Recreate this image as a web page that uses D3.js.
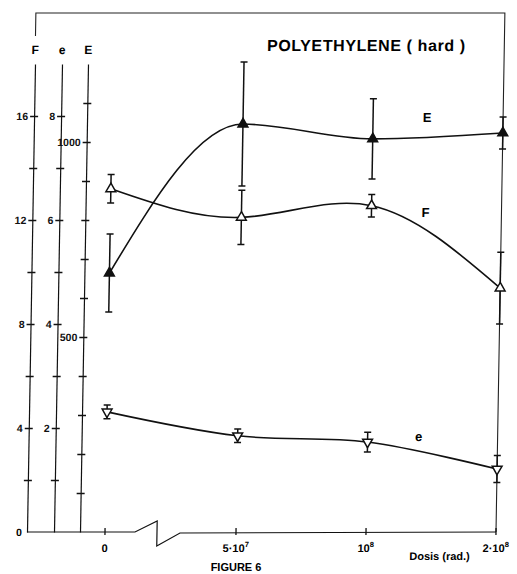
<!DOCTYPE html>
<html>
<head>
<meta charset="utf-8">
<script src="https://cdn.jsdelivr.net/npm/d3@7"></script>
<style>
  body { margin: 0; background: #fff; }
  svg { display: block; font-family: "Liberation Sans", Arial, sans-serif; font-weight: bold; }
</style>
</head>
<body>
<div id="chart"></div>
<script>
// --- data ---
const doses = [0, 5e7, 1e8, 2e8];
const eModulus = [664, 1046, 1008, 1023];      // E
const eModulusErr = [100, 159, 103, 41];
const fValues = [13.2, 12.1, 12.55, 9.38];      // F
const fErr = [0.55, 1.04, 0.43, 1.38];
const eValues = [2.31, 1.85, 1.73, 1.21];       // e
const eErr = [0.13, 0.13, 0.19, 0.26];

const fTicks = [2, 4, 6, 8, 10, 12, 14, 16];
const fLabels = [4, 8, 12, 16];
const eTicks = [1, 2, 3, 4, 5, 6, 7, 8];
const eLabels = [2, 4, 6, 8];
const bigETicks = [100, 200, 300, 400, 500, 600, 700, 800, 900, 1000, 1100];
const bigELabels = [500, 1000];

const width = 517, height = 574;
const base = 532;

const svg = d3.select("#chart").append("svg")
  .attr("width", width).attr("height", height);

// scan is slightly sheared: verticals lean right toward the top
const g = svg.append("g")
  .attr("transform", `translate(0,${base}) skewX(-0.98) translate(0,${-base})`);

// --- scales ---
const xLog = d3.scaleLog().domain([5e7, 2e8]).range([236, 496]);
const xZero = 105;
const x = d => d === 0 ? xZero : xLog(d);

const yF = d3.scaleLinear().domain([0, 18]).range([base, base - 18 * 26]);
const ye = d3.scaleLinear().domain([0, 9]).range([base, base - 9 * 52]);
const yE = d3.scaleLinear().domain([0, 1200]).range([base, base - 1200 * 0.39]);

// --- left axes ---
function leftAxis(scale, xPos, ticks, labels, name) {
  const ax = g.append("g")
    .attr("transform", `translate(${xPos},0)`)
    .call(d3.axisLeft(scale)
      .tickValues(ticks)
      .tickSizeOuter(0)
      .tickSizeInner(4)
      .tickPadding(2)
      .tickFormat(v => labels.includes(v) ? v : ""));
  ax.select(".domain").attr("stroke", "#111").attr("stroke-width", 1.2);
  ax.selectAll(".tick line").attr("x1", -4).attr("x2", 4)
    .attr("stroke", "#111").attr("stroke-width", 1.3);
  ax.selectAll(".tick text")
    .attr("font-family", "Liberation Sans, Arial, sans-serif")
    .attr("font-weight", "bold").attr("font-size", 10.5).attr("fill", "#111");
  g.append("text")
    .attr("x", xPos).attr("y", 54)
    .attr("text-anchor", "middle")
    .attr("font-size", 12)
    .text(name);
  return ax;
}
leftAxis(yF, 27, fTicks, fLabels, "F");
leftAxis(ye, 54, eTicks, eLabels, "e");
leftAxis(yE, 80, bigETicks, bigELabels, "E");

g.append("text").attr("x", 22).attr("y", base + 4)
  .attr("text-anchor", "end").attr("font-size", 10.5).text("0");

// --- frame ---
g.append("path")
  .attr("d", `M27,36 V13 H496 V${base}`)
  .attr("fill", "none").attr("stroke", "#222").attr("stroke-width", 1.1);

// --- x axis with break ---
g.append("path")
  .attr("d", `M27,${base} H135 L157,521 L157,546 L180,533 L${xLog(2e8)},${base}`)
  .attr("fill", "none").attr("stroke", "#111").attr("stroke-width", 1.2);

doses.forEach(d => {
  g.append("line")
    .attr("x1", x(d)).attr("x2", x(d))
    .attr("y1", base - 4).attr("y2", base + 3)
    .attr("stroke", "#111").attr("stroke-width", 1.3);
});

const xLabels = [
  { d: 0, main: "0", sup: "" },
  { d: 5e7, main: "5·10", sup: "7" },
  { d: 1e8, main: "10", sup: "8" },
  { d: 2e8, main: "2·10", sup: "8" }
];
xLabels.forEach(l => {
  const t = g.append("text")
    .attr("x", x(l.d)).attr("y", 552)
    .attr("text-anchor", "middle")
    .attr("font-size", 11);
  t.append("tspan").text(l.main);
  if (l.sup) t.append("tspan").attr("dy", -5).attr("font-size", 7.5).text(l.sup);
});

g.append("text").attr("x", 440).attr("y", 560)
  .attr("text-anchor", "middle").attr("font-size", 11).text("Dosis (rad.)");

svg.append("text").attr("x", 236).attr("y", 571)
  .attr("text-anchor", "middle").attr("font-size", 11).text("FIGURE  6");

g.append("text").attr("x", 358).attr("y", 51)
  .attr("text-anchor", "middle").attr("font-size", 16)
  .attr("letter-spacing", 0.6).text("POLYETHYLENE ( hard )");

// --- series ---
const series = [
  { name: "E", vals: eModulus, err: eModulusErr, y: yE, curve: d3.curveMonotoneX, marker: "up", fill: "#111", label: [420, 122] },
  { name: "F", vals: fValues, err: fErr, y: yF, curve: d3.curveNatural, marker: "up", fill: "#fff", label: [420, 217] },
  { name: "e", vals: eValues, err: eErr, y: ye, curve: d3.curveCatmullRom, marker: "down", fill: "#fff", label: [417, 441] }
];

const line = d3.line().x(p => p[0]).y(p => p[1]);

series.forEach(s => {
  const pts = doses.map((d, i) => [x(d), s.y(s.vals[i])]);

  g.append("path")
    .attr("d", line.curve(s.curve)(pts))
    .attr("fill", "none").attr("stroke", "#111").attr("stroke-width", 1.6);

  // error bars
  doses.forEach((d, i) => {
    const cx = x(d);
    const y1 = s.y(s.vals[i] + s.err[i]);
    const y2 = s.y(s.vals[i] - s.err[i]);
    g.append("line").attr("x1", cx).attr("x2", cx).attr("y1", y1).attr("y2", y2)
      .attr("stroke", "#111").attr("stroke-width", 1.5);
    [y1, y2].forEach(yy => g.append("line")
      .attr("x1", cx - 3.5).attr("x2", cx + 3.5).attr("y1", yy).attr("y2", yy)
      .attr("stroke", "#111").attr("stroke-width", 1.5));
  });

  // triangle markers
  const sym = d3.symbol().type(d3.symbolTriangle).size(42);
  g.selectAll(null).data(pts).enter().append("path")
    .attr("d", sym)
    .attr("transform", p => `translate(${p[0]},${p[1]})${s.marker === "down" ? " rotate(180)" : ""}`)
    .attr("fill", s.fill).attr("stroke", "#111").attr("stroke-width", 1.5);

  g.append("text")
    .attr("x", s.label[0]).attr("y", s.label[1])
    .attr("text-anchor", "middle").attr("font-size", 13)
    .text(s.name);
});
</script>
</body>
</html>
